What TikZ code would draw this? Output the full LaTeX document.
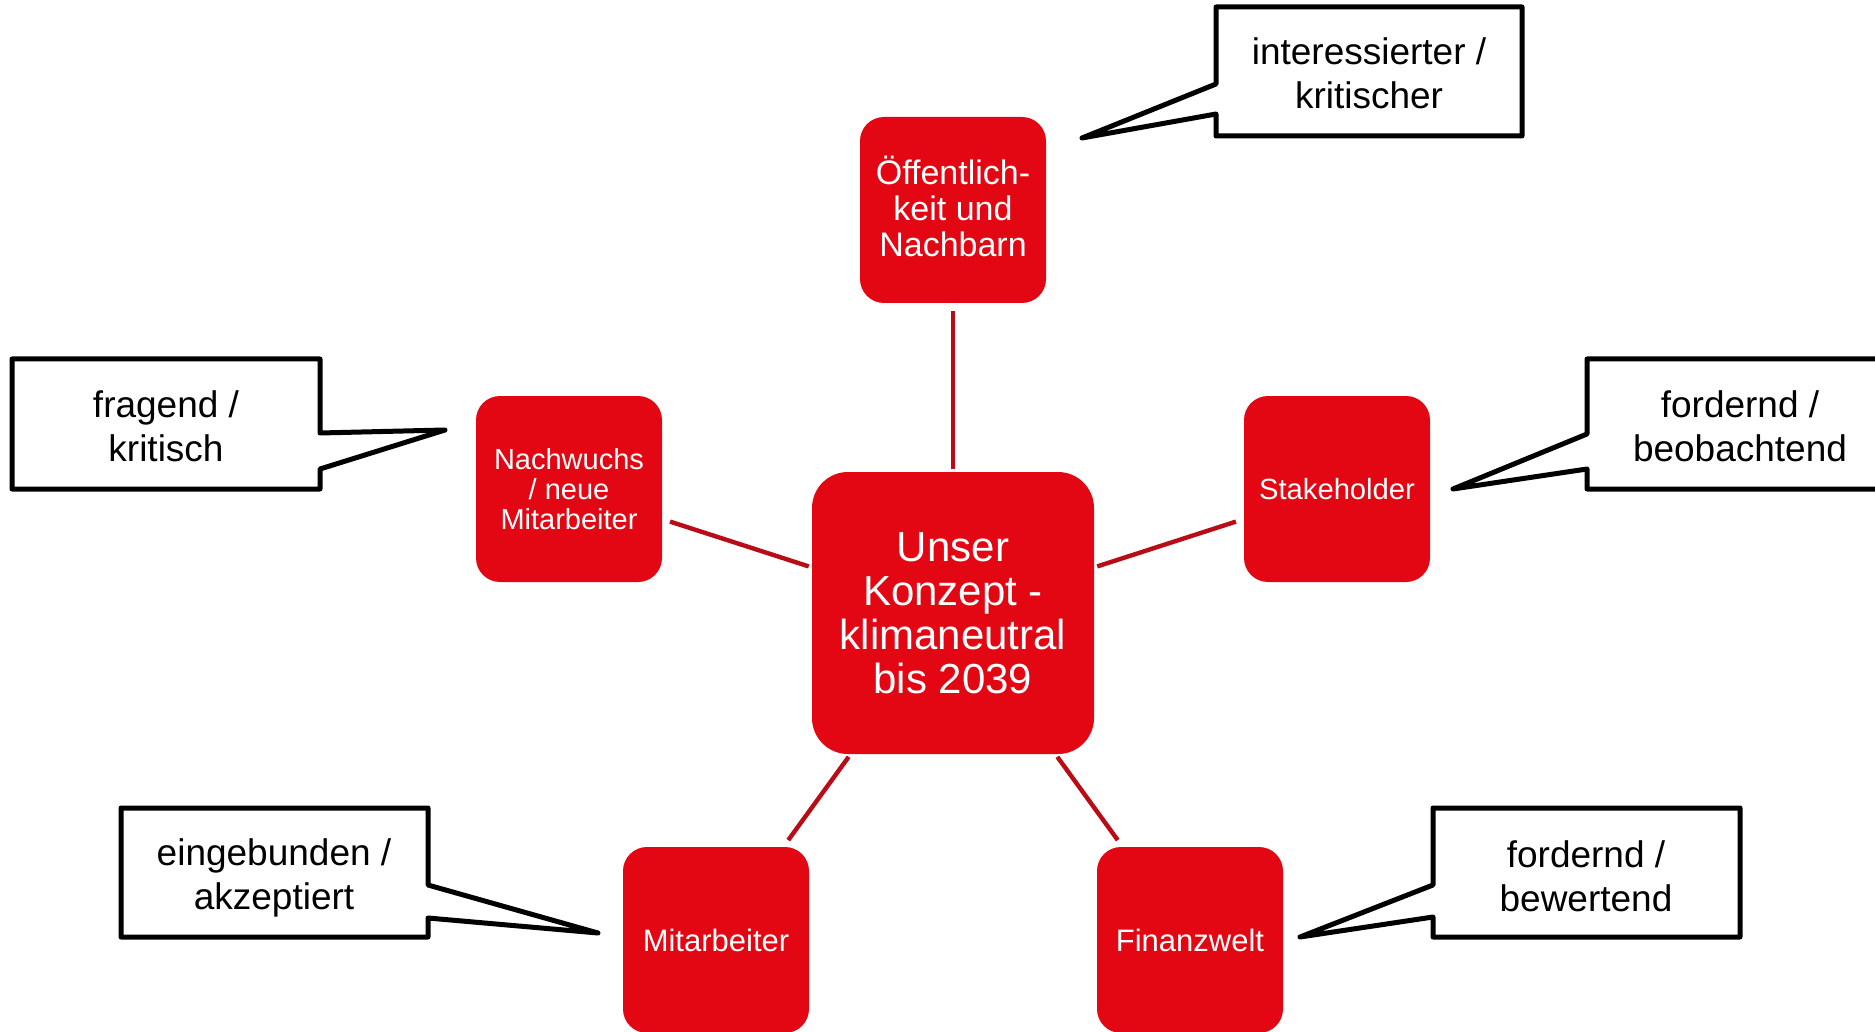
\documentclass[tikz,border=0pt]{standalone}
\usepackage{fontspec}
\setmainfont{Liberation Sans}
\definecolor{boxrot}{RGB}{227,6,19}
\definecolor{linienrot}{RGB}{185,12,22}

\begin{document}
\begin{tikzpicture}[x=0.5pt,y=-0.5pt,
    akteur/.style={fill=boxrot,text=white,align=center,rounded corners=12pt,
        minimum width=93pt,minimum height=93pt,inner sep=1pt,font=\fontsize{15.5}{16}\selectfont},
    kern/.style={akteur,minimum width=141pt,minimum height=141pt,rounded corners=18pt,
        font=\fontsize{21}{22}\selectfont},
    link/.style={draw=linienrot,line width=2.2pt,shorten <=1.5pt,shorten >=4pt},
    sprech/.style={draw=black,line width=2.5pt,line join=round},
    blase/.style={align=center,font=\fontsize{18.5}{22}\selectfont}]
    \useasboundingbox (0,0) rectangle (1875,1032);
    % Kern
    \node[kern] (mid) at (953,613) {Unser\\Konzept -\\klimaneutral\\bis 2039};
    % Akteure
    \node[akteur,font=\fontsize{17}{18}\selectfont] (oeff) at (953,210) {Öffentlich-\\keit und\\Nachbarn\vphantom{g}};
    \node[akteur,font=\fontsize{14.5}{15}\selectfont] (nach) at (569,489) {Nachwuchs\\/ neue\\Mitarbeiter};
    \node[akteur,font=\fontsize{14.6}{16}\selectfont] (stake) at (1337,489) {Stakeholder};
    \node[akteur] (mitarb) at (716,940) {Mitarbeiter};
    \node[akteur] (finanz) at (1190,940) {Finanzwelt};
    \foreach \z in {oeff,nach,stake,mitarb,finanz}
        \draw[link] (mid) -- (\z);
    % Sprechblasen
    \draw[sprech] (1216,7) -- (1522,7) -- (1522,136) -- (1216,136) -- (1216,114) -- (1082,138) -- (1216,84) -- cycle;
    \node[blase] (b-oeff) at (1369,73) {interessierter /\\kritischer};
    \draw[sprech] (12,359) -- (320,359) -- (320,433) -- (445,430) -- (320,469) -- (320,489) -- (12,489) -- cycle;
    \node[blase] (b-nach) at (166,426) {fragend /\\kritisch};
    \draw[sprech] (1885,359) -- (1587,359) -- (1587,434) -- (1453,489) -- (1587,469) -- (1587,489) -- (1885,489);
    \node[blase] (b-stake) at (1740,426) {fordernd /\\beobachtend};
    \draw[sprech] (121,808) -- (428,808) -- (428,885) -- (598,933) -- (428,918) -- (428,937) -- (121,937) -- cycle;
    \node[blase] (b-mitarb) at (274,878) {eingebunden /\\akzeptiert};
    \draw[sprech] (1433,808) -- (1740,808) -- (1740,937) -- (1433,937) -- (1433,917) -- (1300,937) -- (1433,885) -- cycle;
    \node[blase] (b-finanz) at (1586,876) {fordernd /\\bewertend};
\end{tikzpicture}
\end{document}
